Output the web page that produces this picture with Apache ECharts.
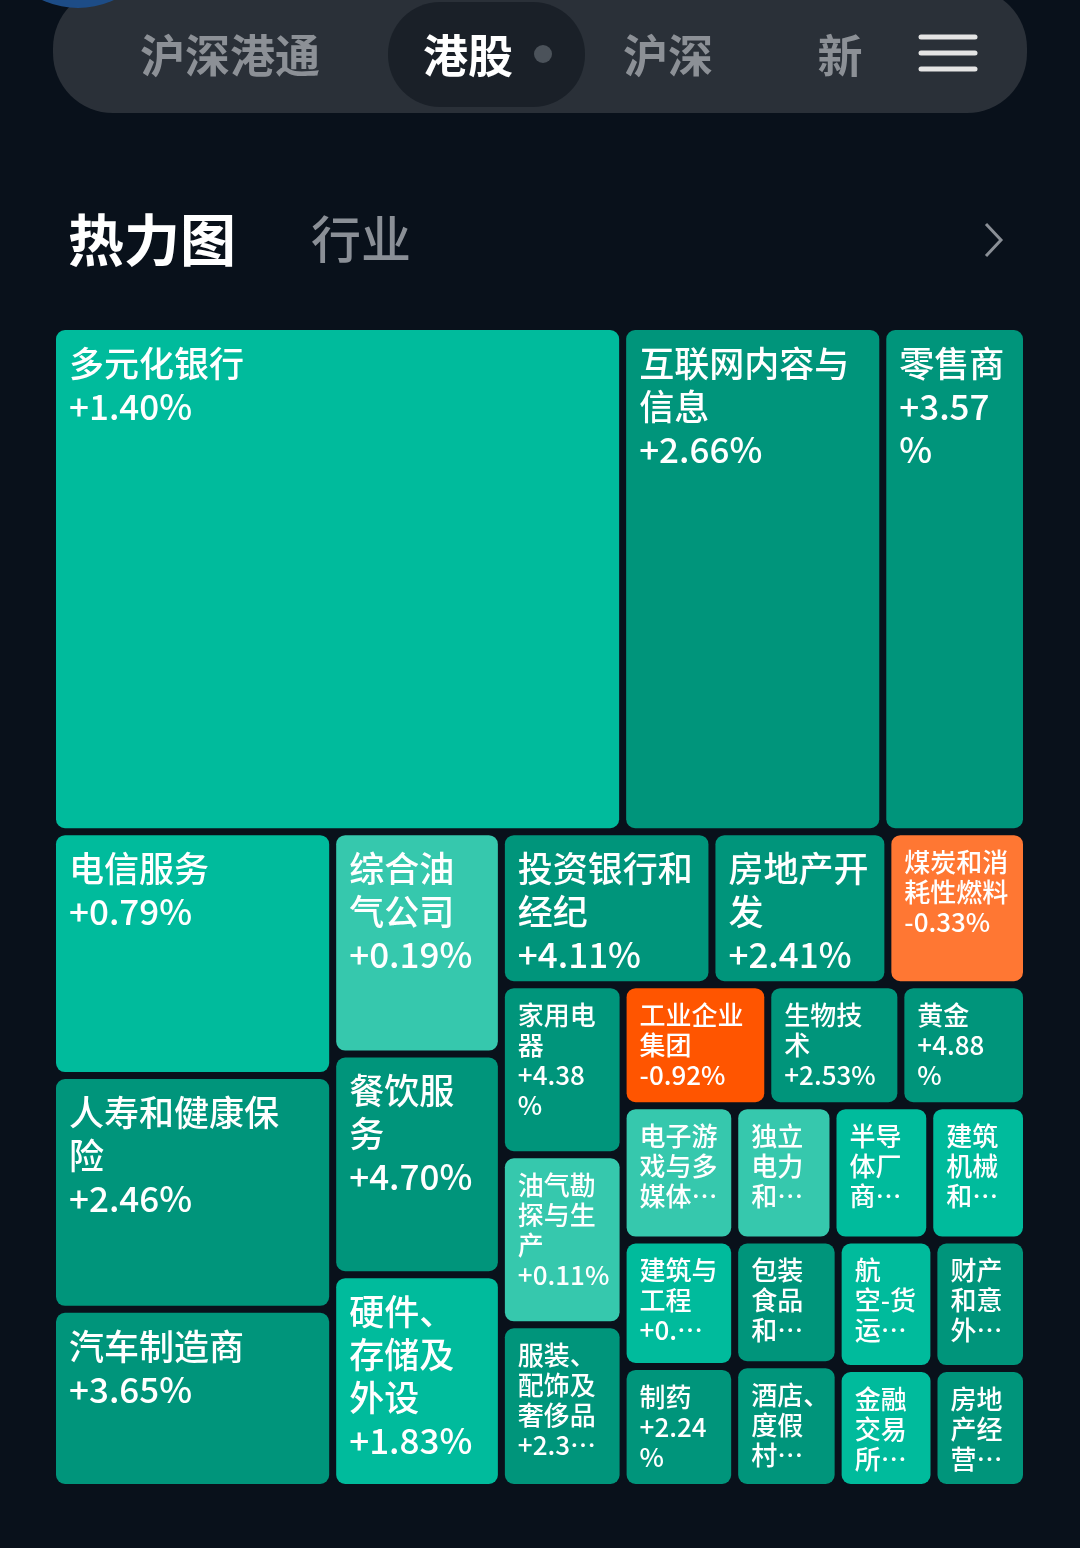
<!DOCTYPE html>
<html>
<head>
<meta charset="UTF-8">
<title>热力图 - 行业</title>
<script src="https://cdn.jsdelivr.net/npm/echarts@6/dist/echarts.min.js"></script>
<style>
    html, body { margin: 0; padding: 0; background: #09111b; }
    #main { width: 1080px; height: 1548px; }
</style>
</head>
<body>
<div id="main"></div>
<script type="text/javascript">
// 格子里显示的行业名(按原图换行, 放不下的带省略号)
var names = [
    '多元化银行', '互联网内容与\n信息', '零售商',
    '电信服务', '人寿和健康保\n险', '汽车制造商',
    '综合油\n气公司', '餐饮服\n务', '硬件、\n存储及\n外设',
    '投资银行和\n经纪', '房地产开\n发', '煤炭和消\n耗性燃料',
    '家用电\n器', '油气勘\n探与生\n产', '服装、\n配饰及\n奢侈品',
    '工业企业\n集团', '生物技\n术', '黄金',
    '电子游\n戏与多\n媒体…', '独立\n电力\n和…', '半导\n体厂\n商…', '建筑\n机械\n和…',
    '建筑与\n工程', '制药', '包装\n食品\n和…', '酒店、\n度假\n村…',
    '航\n空-货\n运…', '财产\n和意\n外…', '金融\n交易\n所…', '房地\n产经\n营…'
];
// 涨跌幅文字(空的表示被截掉了)
var pctText = [
    '+1.40%', '+2.66%', '+3.57\n%',
    '+0.79%', '+2.46%', '+3.65%',
    '+0.19%', '+4.70%', '+1.83%',
    '+4.11%', '+2.41%', '-0.33%',
    '+4.38\n%', '+0.11%', '+2.3…',
    '-0.92%', '+2.53%', '+4.88\n%',
    '', '', '', '',
    '+0.…', '+2.24\n%', '', '',
    '', '', '', ''
];
// 涨跌幅(%), 决定颜色; 看不到的按颜色估计
var changes = [
    1.40, 2.66, 3.57,
    0.79, 2.46, 3.65,
    0.19, 4.70, 1.83,
    4.11, 2.41, -0.33,
    4.38, 0.11, 2.35,
    -0.92, 2.53, 4.88,
    0.3, 0.2, 1.2, 1.5,
    0.8, 2.24, 2.6, 3.1,
    1.1, 2.7, 1.6, 2.3
];
// 市值(面积), 按格子大小估计
var caps = [
    2880, 1314, 726,
    683, 655, 499,
    375, 372, 359,
    322, 269, 212,
    207, 207, 198,
    175, 161, 152,
    150, 132, 130, 130,
    141, 135, 129, 127,
    123, 119, 114, 110
];

// 分组结构(数字是上面数组的下标), 让矩形树图按原图的行列切分
var groups = [
    [[0, 1], 2],
    [3, 4, 5,
        [6, 7, 8,
            [9, 10, 11,
                [12, 13, 14,
                    [15, 16, 17,
                        [[18, 19, 20, 21], [22, 23, 24, 25, 26, 27, 28, 29]]]]]]]
];

function tileColor(c) {
    if (c < -0.5) return '#ff5500';
    if (c < 0) return '#ff7733';
    if (c < 0.5) return '#36c8ad';
    if (c < 2) return '#00bb9c';
    return '#00957b';
}

function build(node) {
    if (typeof node === 'number') {
        var big = caps[node] >= 230;
        var txt = names[node] + (pctText[node] ? '\n' + pctText[node] : '');
        return {
            name: names[node].replace(/\n/g, ''),
            value: caps[node],
            itemStyle: { color: tileColor(changes[node]) },
            label: {
                formatter: txt,
                fontSize: big ? 35 : 26,
                lineHeight: big ? 43 : 30
            }
        };
    }
    return {
        name: '',
        itemStyle: { color: 'rgba(0,0,0,0)' },
        children: node.map(build)
    };
}

var myChart = echarts.init(document.getElementById('main'));

var grayFont = '"Noto Sans CJK SC", "Noto Sans", sans-serif';

var option = {
    backgroundColor: '#09111b',
    animation: false,
    graphic: [
        // 顶部导航
        { type: 'rect', shape: { x: 53, y: -12, width: 974, height: 125, r: 60 }, style: { fill: '#2a3038' } },
        { type: 'circle', shape: { cx: 78, cy: -77, r: 85 }, style: { fill: '#1d4c86' } },
        { type: 'rect', shape: { x: 388, y: 2, width: 197, height: 105, r: 52 }, style: { fill: '#1a2028' } },
        { type: 'text', style: { text: '沪深港通', x: 230, y: 56, fill: '#8c9096', font: 'bold 45px ' + grayFont, textAlign: 'center', textVerticalAlign: 'middle' } },
        { type: 'text', style: { text: '港股', x: 468, y: 56, fill: '#ffffff', font: 'bold 45px ' + grayFont, textAlign: 'center', textVerticalAlign: 'middle' } },
        { type: 'circle', shape: { cx: 543, cy: 54, r: 9 }, style: { fill: '#4b525a' } },
        { type: 'text', style: { text: '沪深', x: 668, y: 56, fill: '#8c9096', font: 'bold 45px ' + grayFont, textAlign: 'center', textVerticalAlign: 'middle' } },
        { type: 'text', style: { text: '新', x: 840, y: 56, fill: '#8c9096', font: 'bold 45px ' + grayFont, textAlign: 'center', textVerticalAlign: 'middle' } },
        { type: 'line', shape: { x1: 921, y1: 37, x2: 975, y2: 37 }, style: { stroke: '#e4e4e4', lineWidth: 5, lineCap: 'round' } },
        { type: 'line', shape: { x1: 921, y1: 53, x2: 975, y2: 53 }, style: { stroke: '#e4e4e4', lineWidth: 5, lineCap: 'round' } },
        { type: 'line', shape: { x1: 921, y1: 69, x2: 975, y2: 69 }, style: { stroke: '#e4e4e4', lineWidth: 5, lineCap: 'round' } },
        // 标题
        { type: 'text', style: { text: '热力图', x: 68, y: 240, fill: '#ffffff', font: 'bold 56px ' + grayFont, textVerticalAlign: 'middle' } },
        { type: 'text', style: { text: '行业', x: 311, y: 239, fill: '#8a8f96', font: '500 50px ' + grayFont, textVerticalAlign: 'middle' } },
        { type: 'polyline', shape: { points: [[986, 224], [1001, 240], [986, 256]] }, style: { stroke: '#8a8f96', lineWidth: 3, fill: null } }
    ],
    series: [{
        type: 'treemap',
        left: 56,
        top: 330,
        width: 967,
        height: 1154,
        roam: false,
        nodeClick: false,
        silent: true,
        sort: false,
        squareRatio: 1.12,
        visibleMin: 0,
        breadcrumb: { show: false },
        upperLabel: { show: false },
        itemStyle: {
            borderWidth: 0,
            gapWidth: 7,
            borderRadius: 9,
            borderColor: 'rgba(0,0,0,0)'
        },
        label: {
            show: true,
            position: 'insideTopLeft',
            distance: 0,
            padding: [12, 2, 0, 13],
            color: '#ffffff',
            fontFamily: grayFont,
            fontWeight: 500,
            overflow: 'none'
        },
        data: groups.map(build)
    }]
};

myChart.setOption(option);
</script>
</body>
</html>
